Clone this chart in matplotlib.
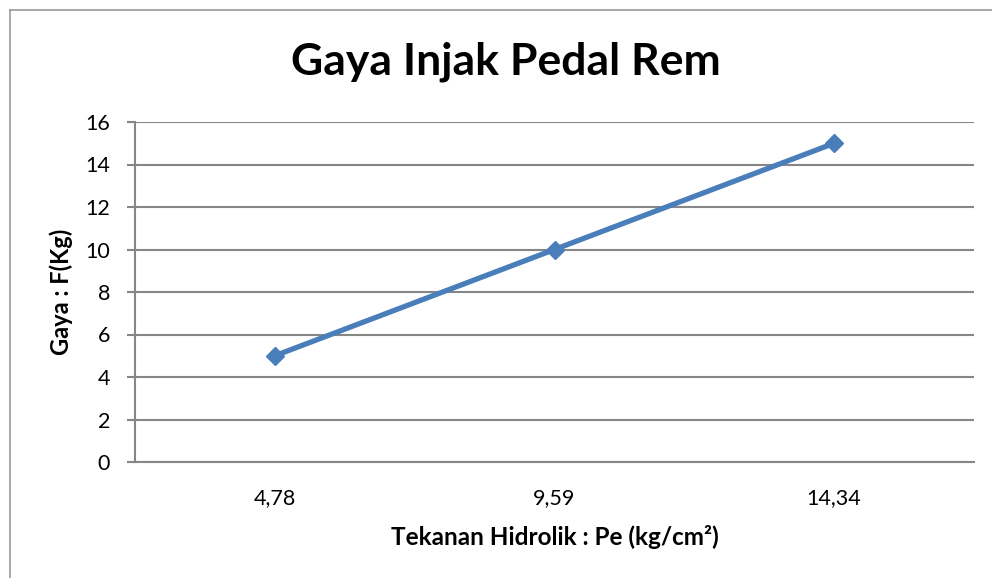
import matplotlib
matplotlib.use("Agg")
import matplotlib.pyplot as plt
from matplotlib.lines import Line2D

plt.rcParams['font.family'] = ['Lato', 'DejaVu Sans']

categories = ["4,78", "9,59", "14,34"]
gaya = [5, 10, 15]
y_ticks = [0, 2, 4, 6, 8, 10, 12, 14, 16]

W, H = 992, 578
fig = plt.figure(figsize=(W / 100, H / 100), dpi=100)

# plot area in pixel terms
left, right, top, bottom = 135, 974, 122, 462
ax = fig.add_axes([left / W, 1 - bottom / H, (right - left) / W, (bottom - top) / H])

x = list(range(len(categories)))
ax.plot(x, gaya, color='#4A7EBB', linewidth=3.8, marker='D', markersize=9,
        markerfacecolor='#4A7EBB', markeredgecolor='#4A7EBB', zorder=3,
        solid_capstyle='butt')

ax.set_xlim(-0.5, len(categories) - 0.5)
ax.set_ylim(0, 16)
ax.set_yticks(y_ticks)
ax.set_xticks(x)
ax.set_xticklabels(categories)

grid_c = '#868686'
ax.yaxis.grid(True, color=grid_c, linewidth=1.5)
ax.set_axisbelow(True)
for s in ['top', 'right']:
    ax.spines[s].set_visible(False)
for s in ['left', 'bottom']:
    ax.spines[s].set_color(grid_c)
    ax.spines[s].set_linewidth(1.5)

ax.tick_params(axis='y', length=6, width=1.5, color=grid_c, labelsize=15.5, pad=12)
ax.tick_params(axis='x', length=0, labelsize=15.5, pad=19)

ax.set_ylabel('Gaya : F(Kg)', fontsize=17, fontweight='bold', labelpad=9)
ax.set_xlabel('Tekanan Hidrolik : Pe (kg/cm²)', fontsize=17.5,
              fontweight='bold', labelpad=12)

fig.text(506 / W, 1 - 62 / H, 'Gaya Injak Pedal Rem', ha='center', va='center',
         fontsize=32, fontweight='bold')

# chart frame (left and top edges inside the canvas)
bc = '#9A9A9A'
fig.add_artist(Line2D([9.5 / W, 9.5 / W], [0, 1 - 10 / H], transform=fig.transFigure,
                      color=bc, linewidth=1.2))
fig.add_artist(Line2D([9.5 / W, 1], [1 - 10 / H, 1 - 10 / H], transform=fig.transFigure,
                      color=bc, linewidth=1.2))

fig.savefig('out.png', dpi=100)
